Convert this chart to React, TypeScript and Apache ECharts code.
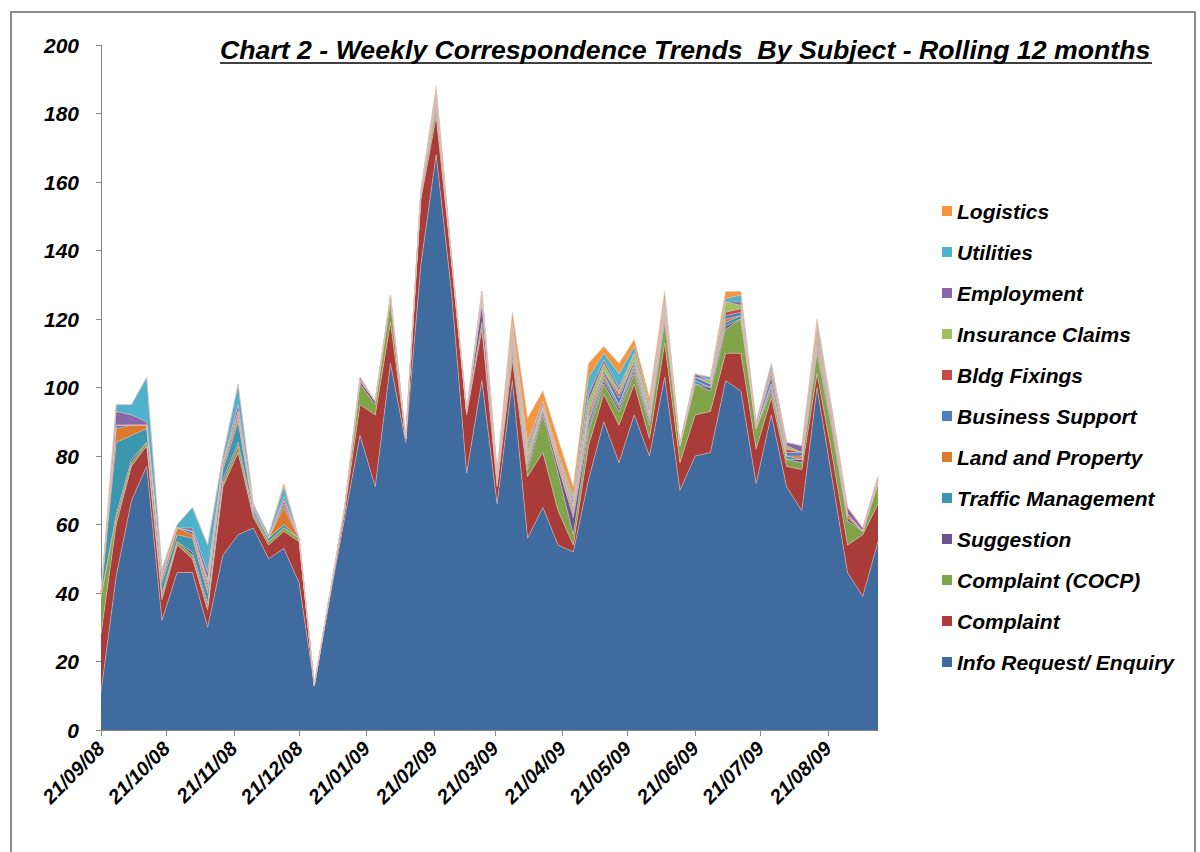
import React, { useEffect, useRef } from "react";
import * as echarts from "echarts";

// Week-commencing dates (x categories)
const weeks = [
  "21/09/08", "28/09/08", "05/10/08", "12/10/08", "19/10/08", "26/10/08", "02/11/08", "09/11/08",
  "16/11/08", "23/11/08", "30/11/08", "07/12/08", "14/12/08", "21/12/08", "28/12/08", "04/01/09",
  "11/01/09", "18/01/09", "25/01/09", "01/02/09", "08/02/09", "15/02/09", "22/02/09", "01/03/09",
  "08/03/09", "15/03/09", "22/03/09", "29/03/09", "05/04/09", "12/04/09", "19/04/09", "26/04/09",
  "03/05/09", "10/05/09", "17/05/09", "24/05/09", "31/05/09", "07/06/09", "14/06/09", "21/06/09",
  "28/06/09", "05/07/09", "12/07/09", "19/07/09", "26/07/09", "02/08/09", "09/08/09", "16/08/09",
  "23/08/09", "30/08/09", "06/09/09", "13/09/09",
];

// Axis tick labels
const monthTicks = [
  "21/09/08", "21/10/08", "21/11/08", "21/12/08", "21/01/09", "21/02/09",
  "21/03/09", "21/04/09", "21/05/09", "21/06/09", "21/07/09", "21/08/09",
];

// Series (stack order bottom -> top)
const infoRequest = [11,45,67,77,32,46,46,30,51,57,59,50,53,43,13,38,62,86,71,107,84,136,168,128,75,102,66,102,56,65,54,52,73,90,78,92,80,103,70,80,81,102,99,72,92,71,64,100,73,46,39,55];
const complaint = [17,15,10,6,6,8,4,5,20,24,3,4,5,12,0,1,2,9,21,12,1,19,11,9,17,15,5,6,18,16,10,2,10,8,11,9,5,10,8,12,12,8,11,10,5,6,12,4,7,8,18,11];
const complaintCocp = [11,2,1,1,1,1,1,1,1,2,1,1,1,1,0,0,1,6,3,6,0,1,2,1,1,2,1,2,2,11,11,3,4,3,4,3,4,6,5,9,6,7,10,6,2,2,2,6,7,7,1,6];
const suggestion = [0,1,1,0,1,0,1,1,1,1,0,0,0,0,0,0,0,1,1,1,0,1,1,0,0,5,0,1,1,1,2,5,1,1,1,1,1,1,0,0,1,1,0,0,1,0,1,1,1,1,0,0];
const trafficManagement = [1,21,7,4,3,2,4,3,3,6,1,1,1,0,0,0,0,0,0,0,0,0,1,0,0,1,1,1,1,1,0,1,2,1,1,1,1,1,0,1,0,1,1,0,1,1,0,1,1,0,0,0];
const landAndProperty = [0,4,3,1,1,2,1,1,1,1,0,0,5,0,0,0,0,0,0,0,0,0,1,0,0,1,0,1,1,0,1,1,1,1,0,1,0,1,0,0,0,1,0,0,0,0,1,1,1,1,0,0];
const businessSupport = [0,1,0,0,1,0,1,1,1,1,1,0,1,0,0,0,0,0,0,0,0,0,0,0,0,1,1,1,1,0,0,1,1,1,2,1,1,1,0,1,1,1,1,1,2,1,1,1,1,0,0,1];
const bldgFixings = [0,0,0,0,0,0,0,1,0,1,0,0,1,0,0,0,0,0,0,0,0,0,1,0,0,0,0,1,0,0,1,0,1,0,1,0,0,0,0,0,0,1,1,0,1,1,0,1,0,0,0,0];
const insuranceClaims = [0,0,0,0,0,0,0,1,0,0,0,0,0,0,0,0,0,0,0,0,0,0,1,0,0,1,1,2,2,1,1,1,3,2,1,2,1,1,0,0,1,3,1,0,1,1,0,2,1,0,0,0];
const employment = [0,4,3,1,1,0,1,2,0,2,0,0,1,0,0,0,0,1,0,1,0,0,1,0,0,0,0,1,1,1,0,1,2,1,1,0,1,1,0,1,0,0,1,0,1,1,2,1,1,2,1,1];
const utilities = [0,2,3,13,1,1,6,8,2,6,1,1,3,0,0,0,0,0,0,0,0,1,0,0,0,0,0,1,1,0,1,1,5,2,4,2,1,1,1,0,1,1,2,1,1,0,0,1,0,0,0,0];
const logistics = [0,0,0,0,0,0,0,0,0,0,0,0,1,0,0,0,0,0,0,0,0,0,1,1,0,0,1,3,7,3,4,3,4,2,3,2,2,2,0,0,0,2,1,0,0,0,0,1,0,0,0,0];

const seriesNames = [
  "Info Request/ Enquiry", "Complaint", "Complaint (COCP)", "Suggestion", "Traffic Management",
  "Land and Property", "Business Support", "Bldg Fixings", "Insurance Claims", "Employment",
  "Utilities", "Logistics",
];
const seriesValues = [
  infoRequest, complaint, complaintCocp, suggestion, trafficManagement, landAndProperty,
  businessSupport, bldgFixings, insuranceClaims, employment, utilities, logistics,
];
const seriesColors = [
  "#3F6B9F", "#A93B38", "#80A44A", "#6B5491", "#3A97AE", "#DE782D",
  "#4C7EC0", "#C64A47", "#A0C25E", "#8767AA", "#4FB2CD", "#F5963F",
];

const FONT = "'Liberation Sans', Arial, Helvetica, sans-serif";

function toDay(s: string): number {
  const [d, m, y] = s.split("/").map(Number);
  return Date.UTC(2000 + y, m - 1, d) / 86400000;
}

export default function App() {
  const ref = useRef<HTMLDivElement>(null);

  useEffect(() => {
    if (!ref.current) return;
    const chart = echarts.init(ref.current, null, { renderer: "svg" });
    const base = toDay(weeks[0]);
    const lastDay = toDay(weeks[weeks.length - 1]) - base;
    const tickDays = monthTicks.map((t) => toDay(t) - base);
    const labelFor = (v: number) => {
      const i = tickDays.findIndex((d) => Math.abs(d - v) < 0.5);
      return i >= 0 ? monthTicks[i] : "";
    };

    const series = seriesNames.map((name, si) => ({
      name,
      type: "line",
      stack: "total",
      xAxisIndex: 0,
      symbol: "none",
      showSymbol: false,
      data: seriesValues[si],
      lineStyle: { width: 1, color: "rgba(222,192,185,0.55)" },
      areaStyle: { color: seriesColors[si], opacity: 1 },
      itemStyle: { color: seriesColors[si] },
      emphasis: { disabled: true },
    }));

    const labelFont = {
      fontFamily: FONT,
      fontWeight: "bold",
      fontStyle: "italic",
      color: "#000",
    };

    chart.setOption({
      animation: false,
      backgroundColor: "#ffffff",
      color: seriesColors,
      grid: { left: 101, right: 322, top: 45, bottom: 122, containLabel: false },
      legend: {
        orient: "vertical",
        left: 937,
        top: 195,
        itemWidth: 10,
        itemHeight: 10,
        itemGap: 19,
        icon: "rect",
        selectedMode: false,
        data: [...seriesNames].reverse(),
        textStyle: { ...labelFont, fontSize: 21, lineHeight: 22 },
      },
      xAxis: [
        {
          type: "category",
          data: weeks,
          boundaryGap: false,
          axisLine: { show: false },
          axisTick: { show: false },
          axisLabel: { show: false },
          splitLine: { show: false },
        },
        {
          type: "value",
          position: "bottom",
          min: 0,
          max: lastDay,
          splitLine: { show: false },
          axisLine: { show: true, lineStyle: { color: "#868686", width: 1 } },
          axisTick: { show: true, length: 6, customValues: tickDays, lineStyle: { color: "#868686" } },
          axisLabel: {
            ...labelFont,
            customValues: tickDays,
            rotate: 45,
            margin: 15,
            formatter: (v: number) => labelFor(v),
            fontSize: 20,
          },
        },
      ],
      yAxis: {
        type: "value",
        min: 0,
        max: 200,
        interval: 20,
        splitLine: { show: false },
        axisLine: { show: true, lineStyle: { color: "#868686", width: 1 } },
        axisTick: { show: true, length: 5, lineStyle: { color: "#868686" } },
        axisLabel: { ...labelFont, margin: 22, fontSize: 21 },
      },
      graphic: [
        {
          type: "rect",
          z: -10,
          silent: true,
          shape: { x: 11, y: 12, width: 1184, height: 860 },
          style: { fill: "none", stroke: "#8c8c8c", lineWidth: 2 },
        },
        {
          type: "text",
          left: 220,
          top: 36,
          silent: true,
          style: {
            text: "Chart 2 - Weekly Correspondence Trends  By Subject - Rolling 12 months",
            font: "italic bold 26.7px 'Liberation Sans', Arial, sans-serif",
            fill: "#000",
          },
        },
        {
          type: "line",
          silent: true,
          shape: { x1: 220, y1: 63, x2: 1152, y2: 63 },
          style: { stroke: "#000", lineWidth: 1.5 },
        },
      ],
      series,
    });

    return () => chart.dispose();
  }, []);

  return (
    <div
      ref={ref}
      style={{ position: "absolute", left: 0, top: 0, width: 1200, height: 852, background: "#fff" }}
    />
  );
}
